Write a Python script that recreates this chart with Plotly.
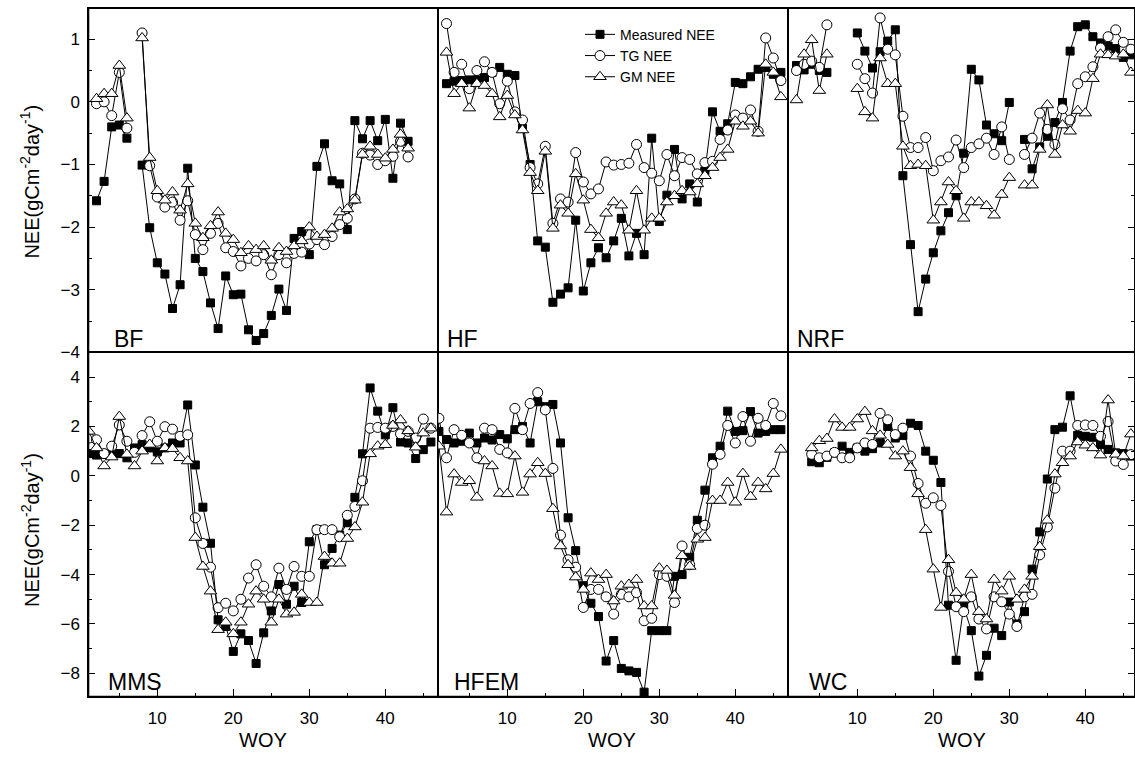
import plotly.graph_objects as go

N = None
WOY = list(range(1, 47))

# ---------------- BF ----------------
BF_meas = [N, -1.58, -1.27, -0.40, -0.37, -0.58, N, -1.01, -2.01, -2.57,
           -2.75, -3.30, -2.92, -1.06, -2.50, -2.71, -3.21, -3.62, -2.78, -3.08,
           -3.07, -3.64, -3.81, -3.70, -3.41, -2.99, -3.33, -2.18, -2.07, -2.44,
           -1.03, -0.67, -1.26, -1.31, -2.04, -0.30, -0.59, -0.30, -0.62, -0.28,
           -1.22, -0.34, -0.63, N, N, N]
BF_tg = [N, -0.03, 0.00, -0.22, 0.47, -0.42, N, 1.10, -1.02, -1.52,
         -1.68, -1.60, -1.89, -1.58, -2.12, -2.36, -2.10, -1.94, -2.33, -2.39,
         -2.62, -2.50, -2.54, -2.44, -2.76, -2.44, -2.57, -2.42, -2.40, -2.27,
         -2.20, -2.28, -2.15, -1.96, -1.86, -1.55, -0.82, -0.85, -1.00, -0.94,
         -0.87, -0.63, -0.88, N, N, N]
BF_gm = [N, 0.05, 0.13, 0.13, 0.58, -0.26, N, 1.02, -0.89, -1.42,
         -1.57, -1.44, -1.73, -1.31, -1.94, -2.17, -1.98, -1.76, -2.10, -2.20,
         -2.41, -2.30, -2.36, -2.30, -2.53, -2.33, -2.39, -2.30, -2.22, -2.00,
         -2.15, -2.12, -2.02, -1.76, -1.71, -1.57, -0.84, -0.71, -0.84, -0.90,
         -0.76, -0.52, -0.74, N, N, N]

# ---------------- HF ----------------
HF_meas = [N, 0.29, 0.33, 0.34, 0.35, 0.35, 0.39, 0.47, 0.55, 0.44,
           0.42, -0.42, -1.00, -2.22, -2.32, -3.20, -3.07, -2.97, -1.89, -3.02,
           -2.57, -2.33, -2.49, -2.22, -1.86, -2.46, -2.10, -2.44, -0.58, -1.91,
           -1.49, -0.76, -1.55, -1.31, -1.60, -1.10, -0.16, -0.47, -0.35, 0.31,
           0.29, 0.40, 0.52, 0.55, 0.44, 0.47]
HF_tg = [N, 1.25, 0.47, 0.60, 0.21, 0.50, 0.64, 0.47, -0.03, 0.33,
         -0.16, -0.29, -1.05, -1.31, -0.71, -1.94, -1.55, -1.60, -0.81, -1.28,
         -1.47, -1.39, -0.96, -1.01, -1.00, -0.98, -0.68, -1.05, -1.14, -1.26,
         -0.84, -1.18, -0.89, -0.92, -1.15, -0.97, -0.95, -0.60, -0.45, -0.21,
         -0.26, -0.13, -0.47, 1.02, 0.70, 0.34]
HF_gm = [N, 0.79, 0.13, 0.29, -0.10, 0.29, 0.26, 0.13, -0.24, 0.10,
         -0.21, -0.45, -1.13, -1.42, -0.79, -2.02, -1.65, -1.78, -1.15, -1.57,
         -2.04, -2.17, -1.78, -1.60, -1.65, -2.05, -1.42, -2.05, -1.86, -1.86,
         -1.60, -1.50, -1.42, -1.44, -1.31, -1.18, -1.05, -0.89, -0.76, -0.31,
         -0.39, -0.31, -0.50, 0.60, 0.47, 0.08]

# ---------------- NRF ----------------
NRF_meas = [N, 0.58, 0.51, 0.60, 0.50, 0.47, N, N, N, 1.10,
            0.81, 0.54, 0.80, 0.97, 1.15, -1.18, -2.28, -3.35, -2.83, -2.41,
            -2.06, -1.77, -1.50, -0.82, 0.52, 0.35, -0.37, -0.51, -0.62, -0.01,
            N, -0.60, -1.07, -0.72, -0.55, -0.33, -0.01, 0.81, 1.20, 1.23,
            1.04, 0.94, 0.89, 0.85, 0.71, 0.75]
NRF_tg = [N, 0.50, 0.60, 0.65, 0.55, 1.23, N, N, N, 0.60,
          0.37, 0.14, 1.34, 0.84, 0.75, -0.23, -0.73, -0.73, -0.57, -1.10,
          -0.94, -0.88, -0.61, -1.05, -0.73, -0.67, -0.58, -0.84, -0.40, -0.92,
          N, -0.84, -0.58, -0.18, -0.44, -0.68, -0.11, -0.29, 0.29, 0.40,
          0.56, 0.86, 1.04, 1.15, 0.95, 0.84]
NRF_gm = [N, 0.03, 0.76, 0.99, 0.18, 0.76, N, N, N, 0.21,
          -0.16, -0.26, 0.70, 0.29, 0.29, -0.71, -1.02, -1.00, -1.02, -1.89,
          -1.60, -1.28, -1.42, -1.86, -1.60, -1.60, -1.66, -1.81, -1.48, -1.21,
          N, -1.33, -1.33, -0.76, -0.05, -0.84, -0.37, -0.47, -0.14, -0.18,
          0.37, 0.76, 0.75, 0.73, 0.76, 0.47]

# ---------------- MMS ----------------
MMS_meas = [0.90, 0.84, 0.87, 0.90, 0.90, 0.73, 1.13, 1.26, 1.13, 0.97,
            1.13, 1.33, 1.33, 2.87, 0.44, -1.27, -2.73, -5.83, -6.10, -7.11,
            -6.40, -6.67, -7.60, -6.36, -5.47, -4.40, -5.20, -4.47, -5.13, -2.67,
            -2.18, -3.60, -2.94, -2.40, -1.90, -0.87, 0.89, 3.56, 2.62, 1.66,
            2.76, 1.37, 1.33, 0.70, 1.06, 1.37]
MMS_tg = [1.53, 1.46, 0.90, 1.20, 2.06, 1.40, 0.95, 1.63, 2.19, 1.40,
          1.99, 1.89, 1.60, 1.66, -1.70, -2.74, -3.70, -5.34, -5.16, -5.47,
          -5.00, -4.14, -3.60, -4.47, -4.90, -3.74, -4.60, -3.67, -4.07, -4.07,
          -2.18, -2.18, -2.18, -2.47, -1.60, -1.24, -0.20, 1.93, 1.96, 1.93,
          2.00, 1.70, 1.80, 1.53, 2.30, 1.93]
MMS_gm = [1.80, 1.13, 0.40, 0.76, 2.40, 0.87, 0.40, 1.00, 1.27, 0.60,
          1.13, 1.10, 0.73, 0.60, -2.50, -3.67, -4.67, -6.23, -5.93, -6.40,
          -5.93, -5.20, -4.67, -5.00, -5.93, -5.00, -5.60, -5.53, -4.80, -5.13,
          -5.13, -3.27, -3.54, -3.54, -2.54, -2.07, -1.07, 0.89, 1.20, 1.26,
          2.04, 2.26, 1.82, 1.16, 1.73, 1.93]

# ---------------- HFEM ----------------
HFEM_meas = [1.80, 1.47, 1.33, 1.40, 1.73, 1.33, 1.53, 1.45, 1.67, 1.50,
             1.87, 2.00, 1.33, 3.00, 2.80, 2.89, 1.33, -1.70, -3.03, -4.45,
             -5.16, -5.70, -7.50, -6.67, -7.80, -7.90, -7.96, -8.76, -6.27, -6.27,
             -6.27, -4.07, -4.00, -3.30, -1.80, -0.58, 0.73, 1.20, 2.62, 1.80,
             1.83, 2.60, 1.73, 1.80, 1.87, 1.87]
HFEM_tg = [2.33, 0.73, 1.87, 1.64, 1.33, 0.73, 1.93, 1.87, 1.07, 0.93,
           2.73, 1.87, 2.93, 3.37, 2.67, 0.30, -2.40, -3.40, -3.70, -5.33,
           -4.60, -4.60, -4.90, -5.60, -4.80, -4.90, -4.73, -5.87, -5.77, -4.00,
           -4.07, -5.13, -2.84, -3.60, -2.13, -2.00, 0.47, 0.87, 2.04, 1.33,
           2.40, 1.40, 2.33, 2.04, 2.93, 2.43]
HFEM_gm = [1.20, -1.47, 0.07, -0.27, -0.20, -0.87, 0.60, 0.40, -0.71, -0.73,
           0.80, -0.67, 0.07, 0.53, 0.09, -1.33, -2.84, -3.60, -4.10, -4.60,
           -3.94, -4.20, -4.00, -5.07, -4.47, -4.40, -4.20, -5.27, -5.27, -3.74,
           -3.83, -4.84, -3.24, -3.67, -2.57, -2.50, -1.00, -1.00, -0.27, -1.07,
           0.09, -0.84, -0.27, -0.53, 0.09, 1.07]

# ---------------- WC ----------------
WC_meas = [N, N, N, 0.57, 0.53, 0.75, 0.93, 1.20, 0.95, 1.13,
           1.00, 1.10, 1.33, 2.00, 1.53, 1.63, 2.13, 2.04, 1.00, 0.63,
           -0.27, -5.24, -7.47, -5.30, -6.27, -8.11, -7.27, -6.17, -6.47, -5.11,
           -6.00, -5.50, -3.78, -2.27, -0.13, 1.87, 1.97, 3.24, 1.64, 1.60,
           1.56, 1.27, 1.07, 0.93, 0.90, 0.80]
WC_tg = [N, N, N, 0.87, 0.73, 0.80, 0.95, 0.73, 0.73, 1.13,
         1.33, 1.27, 2.53, 2.27, 1.67, 1.93, 0.80, -0.31, -1.11, -0.89,
         -1.20, -3.87, -5.30, -5.50, -4.90, -5.80, -6.20, -4.90, -5.10, -5.60,
         -6.10, -4.90, -4.80, -3.20, -2.07, -0.50, 1.00, 1.00, 2.04, 2.06,
         2.04, 1.60, 2.20, 0.60, 0.46, 0.86]
WC_gm = [N, N, N, 1.13, 1.42, 1.51, 2.30, 1.96, 1.96, 2.30,
         2.60, 1.82, 1.64, 1.27, 0.80, 1.00, 0.33, -0.73, -2.18, -3.78,
         -5.33, -3.40, -4.73, -5.00, -4.00, -5.50, -5.80, -4.20, -4.67, -4.07,
         -5.00, -4.60, -4.07, -2.87, -1.80, 0.07, 0.53, 0.80, 1.37, 1.24,
         1.13, 0.84, 3.07, 0.87, 0.80, 1.69]

SITES = ["BF", "HF", "NRF", "MMS", "HFEM", "WC"]
MEAS = [BF_meas, HF_meas, NRF_meas, MMS_meas, HFEM_meas, WC_meas]
TG = [BF_tg, HF_tg, NRF_tg, MMS_tg, HFEM_tg, WC_tg]
GM = [BF_gm, HF_gm, NRF_gm, MMS_gm, HFEM_gm, WC_gm]
SERIES_NAMES = ["Measured NEE", "TG NEE", "GM NEE"]
X_TICKS = [10, 20, 30, 40]

W, H = 1135, 770
FONT = "Arial, Liberation Sans, sans-serif"

fig = go.Figure()

styles = [
    dict(symbol="square", size=8, color="black", line=dict(color="black", width=1)),
    dict(symbol="circle", size=10, color="white", line=dict(color="black", width=1)),
    dict(symbol="triangle-up", size=11, color="white", line=dict(color="black", width=1)),
]

for i in range(6):
    ax = "" if i == 0 else str(i + 1)
    for s, data in enumerate([MEAS[i], TG[i], GM[i]]):
        fig.add_trace(go.Scatter(
            x=WOY, y=data, mode="lines+markers",
            name=SERIES_NAMES[s],
            line=dict(color="black", width=1),
            marker=styles[s],
            connectgaps=False,
            showlegend=(i == 0),
            xaxis="x" + ax, yaxis="y" + ax,
        ))

# pixel geometry
col_px = [(88.3, 438.3), (438.3, 788.3), (788.3, 1135.0)]
x0_px = [81.3, 431.3, 781.3]
ppu = 7.6
row_px = [(8.0, 357.0), (357.0, 706.0)]
row_range = [[-4.0, 1.5], [-8.95, 5.0]]
row_dtick = [1, 2]

layout = dict(
    width=W, height=H,
    margin=dict(l=0, r=0, t=0, b=0),
    paper_bgcolor="white", plot_bgcolor="white",
    font=dict(family=FONT, color="black"),
    showlegend=True,
    legend=dict(x=580 / W, y=1 - 19 / H, xanchor="left", yanchor="top",
                bgcolor="rgba(0,0,0,0)", font=dict(size=14, family=FONT),
                tracegroupgap=0, itemwidth=30),
)

for i in range(6):
    r, c = divmod(i, 3)
    ax = "" if i == 0 else str(i + 1)
    xl, xr = col_px[c]
    rng = [(xl - x0_px[c]) / ppu, (xr - x0_px[c]) / ppu]
    xa = dict(
        domain=[xl / W, xr / W], range=rng, anchor="y" + ax,
        showgrid=False, zeroline=False, showline=True, linecolor="black",
        linewidth=1, mirror=True,
    )
    if r == 1:
        xa.update(ticks="inside", ticklen=8, tickwidth=1.2, tickcolor="black",
                  tickvals=X_TICKS, ticktext=[str(v) for v in X_TICKS],
                  ticklabelstandoff=6,
                  tickfont=dict(size=17, family=FONT),
                  minor=dict(ticks="inside", ticklen=4, tickwidth=1.2,
                             tickcolor="black", dtick=5, tick0=0))
    else:
        xa.update(ticks="", showticklabels=False)
    yt, yb = row_px[r]
    ya = dict(
        domain=[1 - yb / H, 1 - yt / H], range=row_range[r], anchor="x" + ax,
        showgrid=False, zeroline=False, showline=True, linecolor="black",
        linewidth=1, mirror=True,
    )
    if c == 0:
        ya.update(ticks="inside", ticklen=7, tickwidth=1.2, tickcolor="black",
                  dtick=row_dtick[r], tick0=0, tickfont=dict(size=17, family=FONT),
                  ticklabelstandoff=4,
                  minor=dict(ticks="inside", ticklen=4, tickwidth=1.2,
                             tickcolor="black", dtick=row_dtick[r] / 2, tick0=0))
    elif c == 2:
        ya.update(side="right", ticks="inside", ticklen=7, tickwidth=1.2,
                  tickcolor="black", dtick=row_dtick[r], tick0=0,
                  showticklabels=False,
                  minor=dict(ticks="inside", ticklen=4, tickwidth=1.2,
                             tickcolor="black", dtick=row_dtick[r] / 2, tick0=0))
    else:
        ya.update(ticks="", showticklabels=False)
    layout["xaxis" + ax] = xa
    layout["yaxis" + ax] = ya

annotations = []
label_pos = [(112, 343), (445, 343), (795, 343), (106, 691), (452, 691), (807, 691)]
for i, name in enumerate(SITES):
    px, py = label_pos[i]
    annotations.append(dict(text=name, x=px / W, y=1 - py / H, xref="paper", yref="paper",
                            xanchor="left", yanchor="middle", showarrow=False,
                            font=dict(size=23, family=FONT)))
ytitle = "NEE(gCm<sup>-2</sup>day<sup>-1</sup>)"
for cy in [184, 537]:
    annotations.append(dict(text=ytitle, x=30 / W, y=1 - cy / H, xref="paper", yref="paper",
                            xanchor="center", yanchor="middle", textangle=-90, showarrow=False,
                            font=dict(size=20, family=FONT)))
for cx in [263, 612, 962]:
    annotations.append(dict(text="WOY", x=cx / W, y=1 - 750 / H, xref="paper", yref="paper",
                            xanchor="center", yanchor="middle", showarrow=False,
                            font=dict(size=20, family=FONT)))
layout["annotations"] = annotations
layout["shapes"] = [dict(type="rect", xref="paper", yref="paper",
                         x0=88.3 / W, x1=1.0, y0=1 - 706 / H, y1=1 - 8 / H,
                         line=dict(color="black", width=2), fillcolor="rgba(0,0,0,0)")]

fig.update_layout(**layout)
fig.write_html(
    "out.html", config={"displayModeBar": False},
    post_script=(
        "document.documentElement.style.margin='0';"
        "document.documentElement.style.padding='0';"
        "document.documentElement.style.overflow='hidden';"
        "document.documentElement.style.height='770px';"
        "document.body.style.margin='0';document.body.style.padding='0';"
        "document.body.style.overflow='hidden';document.body.style.height='770px';"
    ),
)
